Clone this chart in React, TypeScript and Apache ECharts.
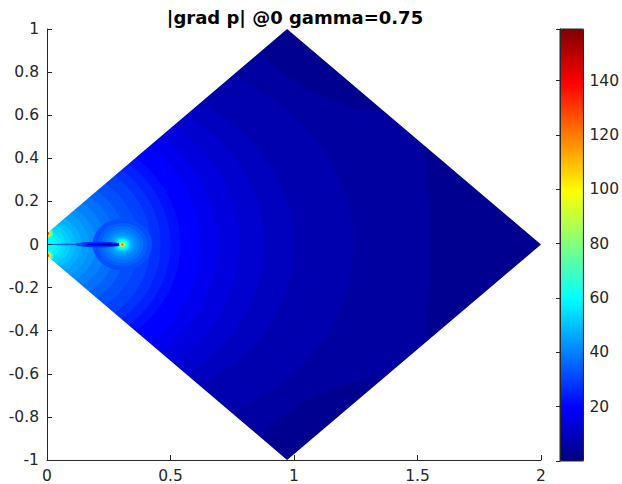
import { useEffect, useRef } from "react";
import * as echarts from "echarts";

// ---- axes / colour scale ----
const xTicks = [0, 0.5, 1, 1.5, 2];
const yTicks = [-1, -0.8, -0.6, -0.4, -0.2, 0, 0.2, 0.4, 0.6, 0.8, 1];
const colorbarTicks = [20, 40, 60, 80, 100, 120, 140];
const colorMin = 0;
const colorMax = 159;
const jetStops = ["#000080", "#0000FF", "#0080FF", "#00FFFF", "#80FF80", "#FFFF00", "#FF8000", "#FF0000", "#800000"];

// ---- domain outline (truncated diamond), data units ----
const domainX = [0, 0.972, 2, 0.972, 0];
const domainY = [-0.052, -1, 0, 1, 0.052];

// ---- |grad p| contour bands ----
// background level (darkest band)
const baseValue = 2.5;
// far-field bands: value, centre x of the contour arc, radius
const farValue = [5.0, 7.4, 9.9, 12.4, 14.9, 17.4, 19.8];
const farCentreX = [-2.32, 0.378, 0.25, 0.15, 0.08, 0.03, 0.0];
const farRadius = [3.872, 0.862, 0.75, 0.73, 0.7, 0.66, 0.62];
// low patches at top / bottom vertices
const vertexPatchValue = 2.5;
const vertexPatchX = [1.45, 1.45];
const vertexPatchY = [1.35, -1.35];
const vertexPatchRadius = [0.742, 0.742];
// bands around the inflow edge (centre 0,0)
const innerValue = [22.3, 24.8, 27.3, 29.8, 32.2, 34.7, 37.2, 39.7, 42.2, 44.6, 47.1, 49.6, 52.1, 54.6, 57.0, 59.5];
const innerRadius = [0.54, 0.5, 0.46, 0.42, 0.37, 0.32, 0.28, 0.24, 0.2, 0.17, 0.14, 0.115, 0.095, 0.075, 0.058, 0.042];
// glow around the slit tip
const tipX = 0.305;
const tipValue = [32.2, 34.7, 37.2, 39.7, 42.2, 44.6, 47.1, 52.1, 57.0, 62.0];
const tipRadius = [0.12, 0.1, 0.085, 0.07, 0.058, 0.048, 0.04, 0.033, 0.027, 0.022];
// dark slit along y = 0
const slitCentreX = [0.21, 0.23, 0.26, 0.08];
const slitHalfLength = [0.095, 0.07, 0.04, 0.08];
const slitHalfWidth = [0.013, 0.006, 0.0035, 0.003];
const slitValue = [27.3, 14.9, 9.9, 32.2];
// hot core at the slit tip
const coreValue = [71.9, 84.3, 99.2, 111.6, 126.5];
const coreRadius = [0.014, 0.011, 0.008, 0.006, 0.004];
// hot spots at the two inflow corners
const hotY = [0.052, -0.052];
const hotValue = [69.4, 84.3, 104.2, 124.0, 136.0];
const hotRadius = [0.025, 0.018, 0.013, 0.009, 0.006];

const FONT = "DejaVu Sans";
const AXIS_COLOR = "#262626";

function buildField(): number[][] {
  const items: number[][] = [];
  items.push([1, 0, 3, 3, baseValue]);
  items.push([farCentreX[0], 0, farRadius[0], farRadius[0], farValue[0]]);
  for (let i = 0; i < vertexPatchX.length; i++) {
    items.push([vertexPatchX[i], vertexPatchY[i], vertexPatchRadius[i], vertexPatchRadius[i], vertexPatchValue]);
  }
  for (let i = 1; i < farValue.length; i++) {
    items.push([farCentreX[i], 0, farRadius[i], farRadius[i], farValue[i]]);
  }
  for (let i = 0; i < innerValue.length; i++) {
    items.push([0, 0, innerRadius[i], innerRadius[i], innerValue[i]]);
  }
  for (let i = 0; i < tipValue.length; i++) {
    items.push([tipX, 0, tipRadius[i], tipRadius[i], tipValue[i]]);
  }
  for (let i = 0; i < slitValue.length; i++) {
    items.push([slitCentreX[i], 0, slitHalfLength[i], slitHalfWidth[i], slitValue[i]]);
  }
  for (let i = 0; i < coreValue.length; i++) {
    items.push([tipX, 0, coreRadius[i], coreRadius[i], coreValue[i]]);
  }
  for (const hy of hotY) {
    for (let i = 0; i < hotValue.length; i++) {
      items.push([0, hy, hotRadius[i], hotRadius[i], hotValue[i]]);
    }
  }
  return items;
}

export default function App() {
  const ref = useRef<HTMLDivElement>(null);
  useEffect(() => {
    document.body.style.margin = "0";
    const chart = echarts.init(ref.current!, null, { renderer: "svg" });
    const field = buildField();

    const option: any = {
      animation: false,
      backgroundColor: "#ffffff",
      graphic: [
        {
          type: "text",
          x: 295,
          y: 17,
          style: {
            text: "|grad p| @0 gamma=0.75",
            fontFamily: FONT,
            fontSize: 18,
            fontWeight: "bold",
            fill: "#000000",
            align: "center",
            verticalAlign: "middle",
          },
        },
      ],
      grid: [
        { left: 47, top: 29, width: 494, height: 432, show: false },
        { left: 560, top: 29, width: 24, height: 432, show: true, borderColor: AXIS_COLOR, borderWidth: 1, backgroundColor: "transparent", z: 10 },
      ],
      xAxis: [
        {
          type: "value",
          gridIndex: 0,
          min: xTicks[0],
          max: xTicks[xTicks.length - 1],
          interval: 0.5,
          z: 5,
          axisLine: { show: true, onZero: false, lineStyle: { color: AXIS_COLOR, width: 1 } },
          axisTick: { show: true, inside: true, length: 5, lineStyle: { color: AXIS_COLOR } },
          axisLabel: { color: AXIS_COLOR, fontFamily: FONT, fontSize: 15.5, margin: 8 },
          splitLine: { show: false },
        },
        { type: "value", gridIndex: 1, min: 0, max: 1, show: false },
      ],
      yAxis: [
        {
          type: "value",
          gridIndex: 0,
          min: yTicks[0],
          max: yTicks[yTicks.length - 1],
          interval: 0.2,
          z: 5,
          axisLine: { show: true, onZero: false, lineStyle: { color: AXIS_COLOR, width: 1 } },
          axisTick: { show: true, inside: true, length: 5, lineStyle: { color: AXIS_COLOR } },
          axisLabel: { color: AXIS_COLOR, fontFamily: FONT, fontSize: 15.5, margin: 8 },
          splitLine: { show: false },
        },
        {
          type: "value",
          gridIndex: 1,
          position: "right",
          min: colorMin,
          max: colorMax,
          interval: 20,
          z: 11,
          axisLine: { show: true, lineStyle: { color: AXIS_COLOR, width: 1 } },
          axisTick: { show: true, inside: true, length: 4, lineStyle: { color: AXIS_COLOR } },
          axisLabel: {
            color: AXIS_COLOR,
            fontFamily: FONT,
            fontSize: 15.5,
            margin: 6,
            formatter: (v: number) => (colorbarTicks.indexOf(Math.round(v)) >= 0 && Math.abs(v - Math.round(v)) < 1e-6 ? String(Math.round(v)) : ""),
          },
          splitLine: { show: false },
        },
      ],
      visualMap: {
        type: "continuous",
        seriesIndex: 0,
        dimension: 4,
        min: colorMin,
        max: colorMax,
        left: 560,
        top: 29,
        itemWidth: 24,
        itemHeight: 432,
        padding: 0,
        calculable: false,
        hoverLink: false,
        inRange: { color: jetStops },
      },
      series: [
        {
          type: "custom",
          xAxisIndex: 0,
          yAxisIndex: 0,
          clip: true,
          silent: true,
          data: field,
          renderItem: (params: any, api: any) => {
            const c = api.coord([api.value(0), api.value(1)]);
            const s = api.size([api.value(2), api.value(3)]);
            const rx = Math.max(s[0], 0.01);
            const ry = Math.max(s[1], 0.01);
            return {
              type: "circle",
              x: c[0],
              y: c[1],
              scaleY: ry / rx,
              shape: { cx: 0, cy: 0, r: rx },
              style: { fill: api.visual("color") },
              z2: params.dataIndex,
            };
          },
        },
        {
          type: "custom",
          xAxisIndex: 0,
          yAxisIndex: 0,
          clip: true,
          silent: true,
          z: 3,
          data: [[0]],
          renderItem: (params: any, api: any) => {
            const pts: number[][] = [];
            pts.push(api.coord([-0.5, -1.5]));
            pts.push(api.coord([-0.5, 1.5]));
            pts.push(api.coord([2.5, 1.5]));
            pts.push(api.coord([2.5, -1.5]));
            pts.push(api.coord([-0.5, -1.5]));
            for (let i = 0; i < domainX.length; i++) pts.push(api.coord([domainX[i], domainY[i]]));
            pts.push(api.coord([domainX[0], domainY[0]]));
            pts.push(api.coord([-0.5, -1.5]));
            return {
              type: "polygon",
              shape: { points: pts },
              style: { fill: "#ffffff", fillRule: "evenodd" },
            };
          },
        },
      ],
    };
    chart.setOption(option);
    return () => chart.dispose();
  }, []);
  return <div ref={ref} style={{ width: 622, height: 484 }} />;
}
